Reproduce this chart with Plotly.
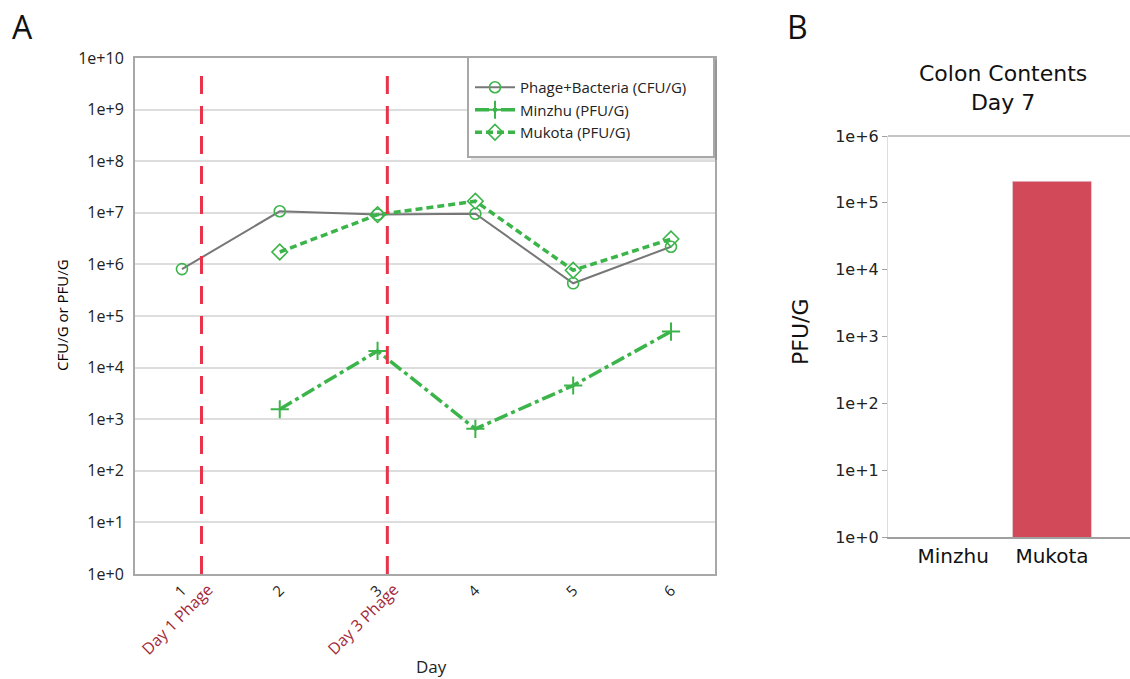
import plotly.graph_objects as go

# ---- Panel A: daily fecal counts ----
days = [1, 2, 3, 4, 5, 6]
phage_bacteria = [8.1e5, 1.07e7, 9.3e6, 9.6e6, 4.3e5, 2.2e6]
minzhu = [None, 1.56e3, 2.1e4, 6.5e2, 4.5e3, 5.0e4]
mukota = [None, 1.74e6, 9.2e6, 1.68e7, 7.7e5, 3.1e6]
phage_days = [1.2, 3.1]
phage_labels = ["Day 1 Phage", "Day 3 Phage"]
ytick_vals_a = [10 ** k for k in range(0, 11)]
ytick_text_a = [f"1e+{k}" for k in range(0, 11)]

# ---- Panel B: colon contents on day 7 ----
colon_groups = ["Minzhu", "Mukota"]
colon_pfu = [None, 2.1e5]
ytick_vals_b = [10 ** k for k in range(0, 7)]
ytick_text_b = [f"1e+{k}" for k in range(0, 7)]

W, H = 1130, 679
GREEN = "#3bb44a"
GRAY = "#777777"
RED = "#e8334a"
FONT_A = "Open Sans"
FONT_B = "DejaVu Sans"


def px_x(x):
    return x / W


def px_y(y):
    return (H - y) / H


fig = go.Figure()

fig.add_trace(go.Scatter(
    x=days, y=phage_bacteria, name="Phage+Bacteria (CFU/G)",
    mode="lines+markers", line=dict(color=GRAY, width=2),
    marker=dict(symbol="circle-open", size=11, color=GREEN, line=dict(width=1.6)),
    xaxis="x", yaxis="y"))
fig.add_trace(go.Scatter(
    x=days, y=minzhu, name="Minzhu (PFU/G)",
    mode="lines+markers", line=dict(color=GREEN, width=3.5, dash="14px,4px,4px,4px"),
    marker=dict(symbol="cross-thin-open", size=13, color=GREEN, line=dict(width=2, color=GREEN)),
    xaxis="x", yaxis="y"))
fig.add_trace(go.Scatter(
    x=days, y=mukota, name="Mukota (PFU/G)",
    mode="lines+markers", line=dict(color=GREEN, width=3.5, dash="7px,4px"),
    marker=dict(symbol="diamond-open", size=12, color=GREEN, line=dict(width=1.6)),
    xaxis="x", yaxis="y"))

fig.add_trace(go.Bar(
    x=colon_groups, y=colon_pfu, marker=dict(color="#d24a5a"), width=0.8,
    showlegend=False, xaxis="x2", yaxis="y2"))

shapes = []
annotations = []
for d, lab in zip(phage_days, phage_labels):
    shapes.append(dict(type="line", xref="x", yref="y domain", x0=d, x1=d, y0=0, y1=0.98,
                       line=dict(color=RED, width=3, dash="18px,12px"), layer="above"))
    annotations.append(dict(text=lab, xref="x", yref="paper", x=d - 0.25, y=px_y(619),
                            textangle=-45, showarrow=False, xanchor="center", yanchor="middle",
                            font=dict(family=FONT_A, size=16, color="#a3283a")))

# legend frame with a soft shadow
shapes.append(dict(type="rect", xref="paper", yref="paper",
                   x0=px_x(471), x1=px_x(717), y0=px_y(160), y1=px_y(60),
                   line=dict(width=0), fillcolor="rgba(0,0,0,0.10)", layer="above"))
shapes.append(dict(type="rect", xref="paper", yref="paper",
                   x0=px_x(468), x1=px_x(714), y0=px_y(157), y1=px_y(57),
                   line=dict(color="#a8a8a8", width=2), fillcolor="white", layer="above"))

# top border line of panel B
shapes.append(dict(type="line", xref="x2 domain", yref="y2 domain", x0=0, x1=1, y0=1, y1=1,
                   line=dict(color="#b0b0b0", width=1.5)))

annotations += [
    dict(text="A", xref="paper", yref="paper", x=px_x(22), y=px_y(27), showarrow=False,
         xanchor="center", yanchor="middle", font=dict(family=FONT_A, size=32, color="#111")),
    dict(text="B", xref="paper", yref="paper", x=px_x(797), y=px_y(27), showarrow=False,
         xanchor="center", yanchor="middle", font=dict(family=FONT_A, size=32, color="#111")),
    dict(text="CFU/G or PFU/G", xref="paper", yref="paper", x=px_x(62), y=px_y(315),
         textangle=-90, showarrow=False, xanchor="center", yanchor="middle",
         font=dict(family=FONT_A, size=15, color="#000")),
    dict(text="Day", xref="paper", yref="paper", x=px_x(431), y=px_y(666),
         showarrow=False, xanchor="center", yanchor="middle",
         font=dict(family=FONT_A, size=17, color="#222")),
    dict(text="Colon Contents<br>Day 7", xref="paper", yref="paper", x=px_x(1003),
         y=px_y(88), showarrow=False, align="center", xanchor="center", yanchor="middle",
         font=dict(family=FONT_B, size=22, color="#111")),
    dict(text="PFU/G", xref="paper", yref="paper", x=px_x(800), y=px_y(332),
         textangle=-90, showarrow=False, xanchor="center", yanchor="middle",
         font=dict(family=FONT_B, size=22, color="#111")),
]

fig.update_layout(
    width=W, height=H, margin=dict(l=0, r=0, t=0, b=0, autoexpand=False),
    paper_bgcolor="white", plot_bgcolor="white",
    showlegend=True,
    legend=dict(x=px_x(470), y=px_y(71), xanchor="left", yanchor="top",
                bgcolor="rgba(0,0,0,0)", borderwidth=0,
                font=dict(family=FONT_A, size=15, color="#222"),
                tracegroupgap=0, itemwidth=40),
    xaxis=dict(domain=[px_x(135), px_x(715)], range=[0.52, 6.45], automargin=False,
               tickvals=days, ticktext=[str(d) for d in days], tickangle=-45,
               showgrid=False, zeroline=False, showline=True, mirror=True,
               linecolor="#a8a8a8", linewidth=2, ticks="",
               tickfont=dict(family=FONT_A, size=15, color="#222")),
    yaxis=dict(domain=[px_y(574), px_y(58)], type="log", range=[0, 10], automargin=False,
               tickvals=ytick_vals_a, ticktext=ytick_text_a,
               showgrid=True, gridcolor="#dddddd", gridwidth=1.5,
               showline=True, mirror=True, linecolor="#a8a8a8", linewidth=2, ticks="",
               zeroline=False, ticklabelstandoff=6,
               tickfont=dict(family=FONT_A, size=16, color="#222")),
    xaxis2=dict(domain=[px_x(888), 1.0], range=[-0.66, 1.79], anchor="y2", automargin=False,
                showgrid=False, zeroline=False, showline=True, linecolor="#a0a0a0",
                linewidth=2, ticks="",
                tickfont=dict(family=FONT_B, size=20, color="#111")),
    yaxis2=dict(domain=[px_y(537), px_y(136)], type="log", range=[0, 6], automargin=False,
                anchor="x2", tickvals=ytick_vals_b, ticktext=ytick_text_b,
                showgrid=False, zeroline=False, showline=True, linecolor="#dddddd",
                linewidth=1, ticks="outside", ticklen=5, tickcolor="#a0a0a0",
                tickfont=dict(family=FONT_B, size=16, color="#222")),
    shapes=shapes, annotations=annotations,
)

fig.write_html("out.html")
